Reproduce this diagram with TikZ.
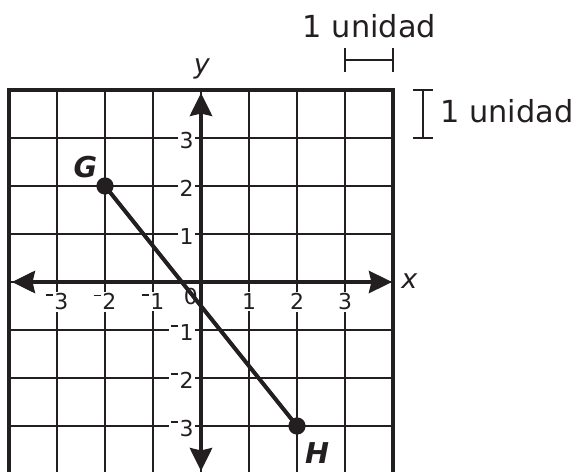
\documentclass[tikz,border=0pt]{standalone}
\usepackage{fontspec}
\setmainfont{DejaVu Sans}
\usetikzlibrary{arrows.meta}
\newcommand{\negsign}{\rule[0.62em]{0.34em}{0.075em}\kern0.06em}
\definecolor{ink}{HTML}{231F20}
\tikzset{
  gridline/.style={line width=1.2pt, ink},
  borderline/.style={line width=2.9pt, ink},
  axisline/.style={line width=2.4pt, ink, {Stealth[length=4.8mm,width=4.6mm,inset=0.5mm]}-{Stealth[length=4.8mm,width=4.6mm,inset=0.5mm]}},
  ticklab/.style={font=\fontsize{13}{15}\selectfont, fill=white, inner sep=1pt, text=ink},
  ptdot/.style={circle, fill=ink, minimum size=0.36cm, inner sep=0pt},
  ptlab/.style={font=\fontsize{17}{19}\selectfont\bfseries\itshape, text=ink},
  axlab/.style={font=\fontsize{16}{18}\selectfont\itshape, text=ink},
  unitbar/.style={line width=1pt, ink},
  unitlab/.style={font=\fontsize{18}{20}\selectfont, text=ink, inner sep=0pt},
}
\begin{document}
\begin{tikzpicture}
\useasboundingbox (-4.1875,-3.958) rectangle (7.875,5.875);
% grid
\foreach \i in {-3,...,3} {
  \draw[gridline] (\i,-4) -- (\i,4);
  \draw[gridline] (-4,\i) -- (4,\i);
}
% tick labels
\foreach \i/\t in {-3/\negsign3,-2/\negsign2,-1/\negsign1,1/1,2/2,3/3} {
  \node[ticklab] (xl\i) at (\i,-0.41) {\t};
  \node[ticklab, anchor=east] (yl\i) at (-0.11,\i-0.05) {\t};
}
\node[font=\fontsize{13}{15}\selectfont, text=ink, inner sep=0pt] (zero) at (-0.21,-0.3) {0};
% border
\draw[borderline] (-4,-4) rectangle (4,4);
% axes
\coordinate (xa) at (-3.94,0);
\coordinate (xb) at (3.98,0);
\coordinate (ya) at (0,-3.94);
\coordinate (yb) at (0,3.94);
\draw[axisline] (xa) -- (xb);
\draw[axisline] (ya) -- (yb);
\node[axlab] (xlab) at (4.34,0.02) {x};
\node[axlab] (ylab) at (0.02,4.44) {y};
% segment
\node[ptdot] (G) at (-2,2) {};
\node[ptdot] (H) at (2,-3) {};
\draw[line width=2.4pt, ink] (G.center) -- (H.center);
\node[ptlab] (Gl) at (-2.41,2.39) {G};
\node[ptlab] (Hl) at (2.42,-3.56) {H};
% unit markers
\coordinate (ha) at (3,4.625);
\coordinate (hb) at (4,4.625);
\draw[unitbar] (ha) -- (hb);
\draw[unitbar] ([yshift=-0.24cm]ha) -- ([yshift=0.24cm]ha);
\draw[unitbar] ([yshift=-0.24cm]hb) -- ([yshift=0.24cm]hb);
\node[unitlab, anchor=base] (hl) at (3.51,5.10) {1 unidad};
\coordinate (va) at (4.625,4);
\coordinate (vb) at (4.625,3);
\draw[unitbar] (va) -- (vb);
\draw[unitbar] ([xshift=-0.2cm]va) -- ([xshift=0.2cm]va);
\draw[unitbar] ([xshift=-0.2cm]vb) -- ([xshift=0.2cm]vb);
\node[unitlab, anchor=base west] (vl) at (4.98,3.33) {1 unidad};
\end{tikzpicture}
\end{document}
